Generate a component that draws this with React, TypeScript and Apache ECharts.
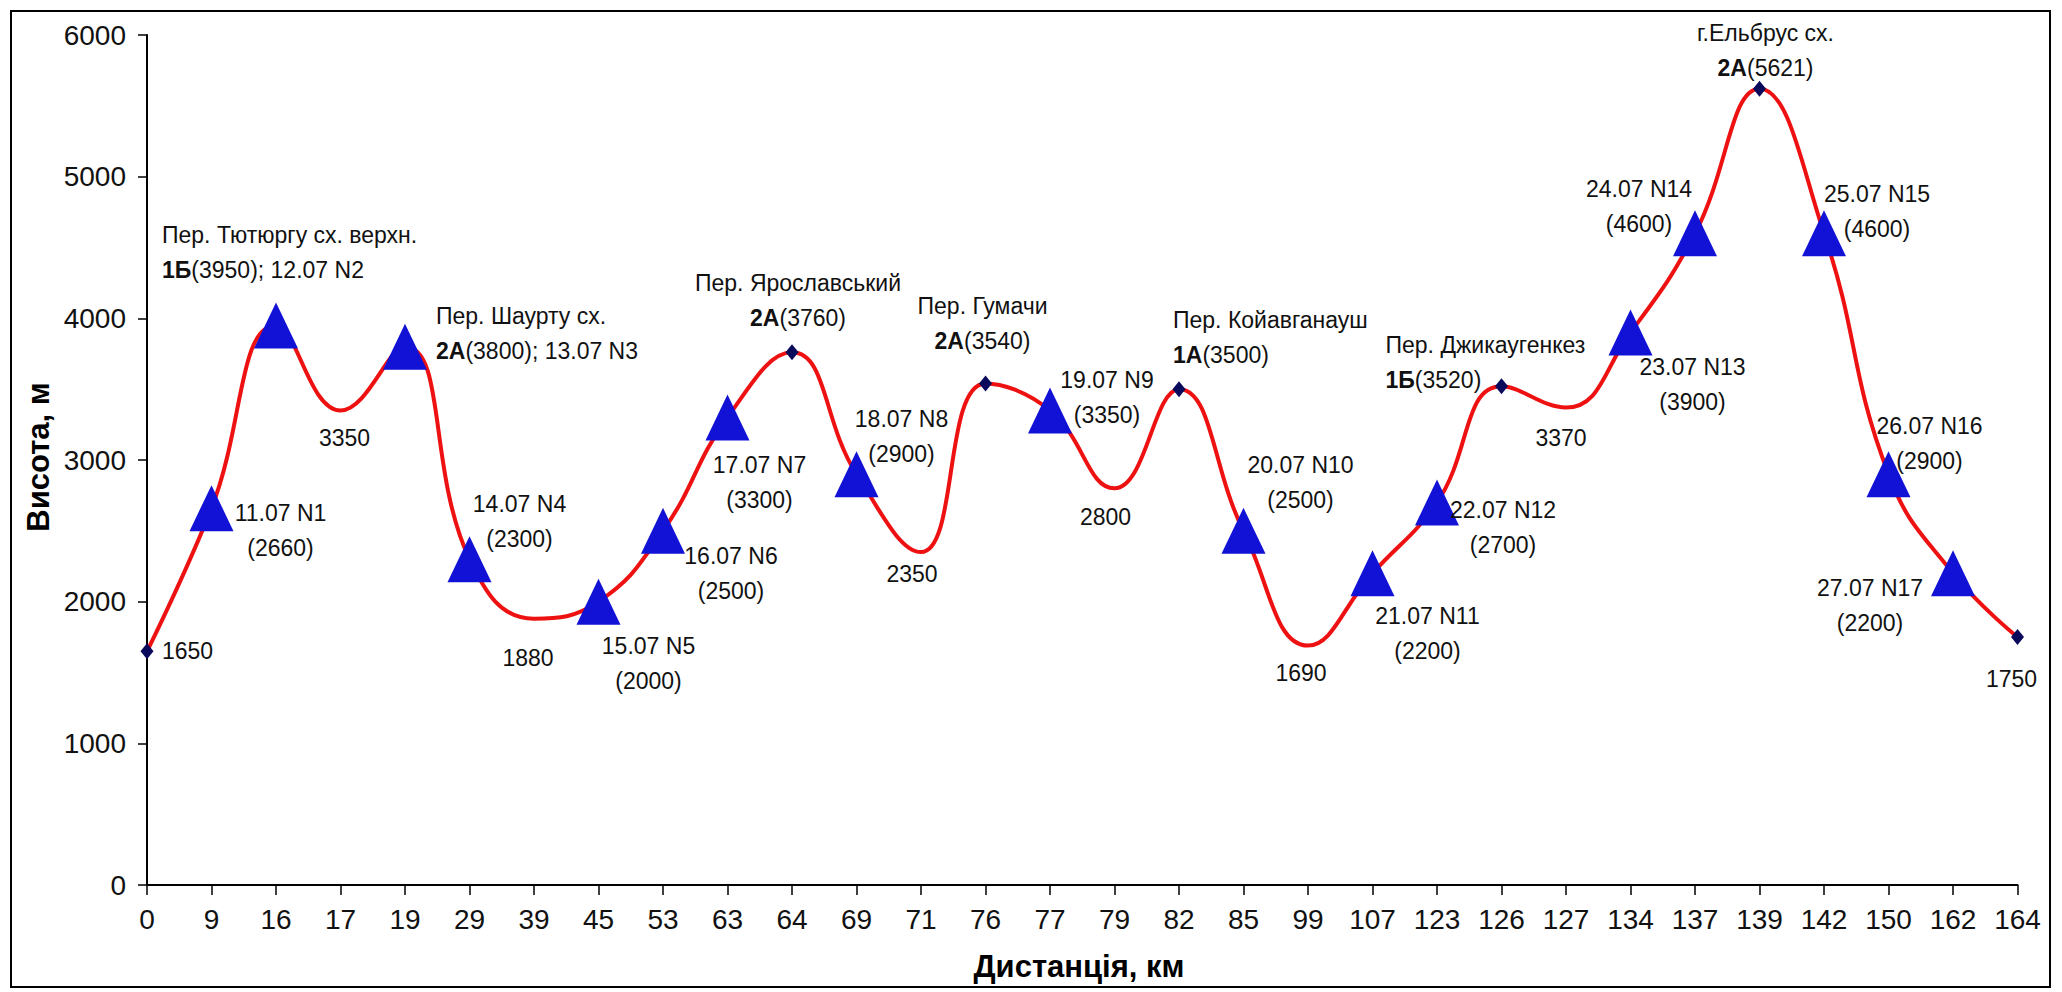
import React, { useEffect, useRef } from "react";
import * as echarts from "echarts";

const distancesKm = ["0", "9", "16", "17", "19", "29", "39", "45", "53", "63", "64", "69", "71", "76", "77", "79", "82", "85", "99", "107", "123", "126", "127", "134", "137", "139", "142", "150", "162", "164"];

const elevations = [1650, 2660, 3950, 3350, 3800, 2300, 1880, 2000, 2500, 3300, 3760, 2900, 2350, 3540, 3350, 2800, 3500, 2500, 1690, 2200, 2700, 3520, 3370, 3900, 4600, 5621, 4600, 2900, 2200, 1750];

// "pass" = diamond, "camp" = triangle, "low" = no marker
const pointKinds = ["pass", "camp", "camp", "low", "camp", "camp", "low", "camp", "camp", "camp", "pass", "camp", "low", "pass", "camp", "low", "pass", "camp", "low", "camp", "camp", "pass", "low", "camp", "camp", "pass", "camp", "camp", "camp", "pass"];

const pointLabels = [
  "1650",
  "11.07 N1\n(2660)",
  "Пер. Тютюргу сх. верхн.\n{b|1Б}(3950); 12.07 N2",
  "3350",
  "Пер. Шаурту сх.\n{b|2А}(3800); 13.07 N3",
  "14.07 N4\n(2300)",
  "1880",
  "15.07 N5\n(2000)",
  "16.07 N6\n(2500)",
  "17.07 N7\n(3300)",
  "Пер. Ярославський\n{b|2А}(3760)",
  "18.07 N8\n(2900)",
  "2350",
  "Пер. Гумачи\n{b|2А}(3540)",
  "19.07 N9\n(3350)",
  "2800",
  "Пер. Койавганауш\n{b|1А}(3500)",
  "20.07 N10\n(2500)",
  "1690",
  "21.07 N11\n(2200)",
  "22.07 N12\n(2700)",
  "Пер. Джикаугенкез\n{b|1Б}(3520)",
  "3370",
  "23.07 N13\n(3900)",
  "24.07 N14\n(4600)",
  "г.Ельбрус сх.\n{b|2А}(5621)",
  "25.07 N15\n(4600)",
  "26.07 N16\n(2900)",
  "27.07 N17\n(2200)",
  "1750",
];

const yTitle = "Висота, м";
const xTitle = "Дистанція, км";

// label placement (presentation only): [dx, dy, align]
const labelPlacement: [number, number, string][] = [
  [15, 0, "left"],
  [69, 22, "center"],
  [-114, -73, "left"],
  [4, 28, "center"],
  [31, -13, "left"],
  [50, -38, "center"],
  [-6, 39, "center"],
  [50, 62, "center"],
  [68, 43, "center"],
  [32, 65, "center"],
  [6, -52, "center"],
  [45, -38, "center"],
  [-9, 22, "center"],
  [-3, -60, "center"],
  [57, -13, "center"],
  [-9, 29, "center"],
  [-6, -52, "left"],
  [57, -48, "center"],
  [-7, 27, "center"],
  [55, 60, "center"],
  [66, 25, "center"],
  [-116, -24, "left"],
  [-5, 30, "center"],
  [62, 52, "center"],
  [-56, -27, "center"],
  [6, -38, "center"],
  [53, -22, "center"],
  [41, -31, "center"],
  [-83, 32, "center"],
  [-6, 42, "center"],
];

const FONT = "'Liberation Sans', Arial, Helvetica, sans-serif";

export default function App() {
  const ref = useRef<HTMLDivElement>(null);

  useEffect(() => {
    document.body.style.margin = "0";
    if (!ref.current) return;
    const chart = echarts.init(ref.current, undefined, { renderer: "svg" });

    const data = elevations.map((v, i) => {
      const kind = pointKinds[i];
      const [dx, dy, align] = labelPlacement[i];
      let symbol = "circle";
      let symbolSize: any = 4;
      let color = "rgba(0,0,0,0)";
      if (kind === "camp") {
        symbol = "triangle";
        symbolSize = [44, 46];
        color = "#1212d6";
      } else if (kind === "pass") {
        symbol = "diamond";
        symbolSize = [13, 16];
        color = "#0a0a5c";
      }
      return {
        value: v,
        symbol,
        symbolSize,
        itemStyle: { color, borderWidth: 0 },
        label: {
          show: true,
          position: "inside",
          offset: [dx, dy],
          align,
          verticalAlign: "middle",
          formatter: pointLabels[i],
          color: "#111",
          fontSize: 23,
          lineHeight: 35,
          fontFamily: FONT,
          textBorderWidth: 0,
          rich: {
            b: {
              fontWeight: "bold",
              fontSize: 23,
              lineHeight: 35,
              fontFamily: FONT,
              color: "#111",
            },
          },
        },
      };
    });

    chart.setOption({
      animation: false,
      backgroundColor: "#ffffff",
      grid: { left: 147, right: 44.5, top: 35, bottom: 107, containLabel: false },
      xAxis: {
        type: "category",
        data: distancesKm,
        boundaryGap: false,
        axisLine: { show: true, lineStyle: { color: "#000", width: 2 } },
        axisTick: { show: true, inside: false, length: 10, lineStyle: { color: "#000", width: 1.5 } },
        axisLabel: { color: "#111", fontSize: 28, fontFamily: FONT, margin: 20, interval: 0 },
        splitLine: { show: false },
      },
      yAxis: {
        type: "value",
        min: 0,
        max: 6000,
        interval: 1000,
        axisLine: { show: true, lineStyle: { color: "#000", width: 2 } },
        axisTick: { show: true, inside: false, length: 9, lineStyle: { color: "#000", width: 1.5 } },
        axisLabel: {
          color: "#111",
          fontSize: 28,
          fontFamily: FONT,
          margin: 21,
          formatter: (v: number) => String(v),
        },
        splitLine: { show: false },
      },
      graphic: [
        {
          type: "rect",
          shape: { x: 11, y: 11, width: 2039, height: 976 },
          style: { fill: "none", stroke: "#000", lineWidth: 2 },
          silent: true,
        },
        {
          type: "text",
          x: 1079,
          y: 966,
          style: {
            text: xTitle,
            fontSize: 31,
            fontWeight: "bold",
            fontFamily: FONT,
            fill: "#000",
            textAlign: "center",
            textVerticalAlign: "middle",
          },
        },
        {
          type: "text",
          x: 38,
          y: 457,
          rotation: Math.PI / 2,
          style: {
            text: yTitle,
            fontSize: 31,
            fontWeight: "bold",
            fontFamily: FONT,
            fill: "#000",
            textAlign: "center",
            textVerticalAlign: "middle",
          },
        },
      ],
      series: [
        {
          type: "line",
          data,
          smooth: 0.45,
          showAllSymbol: true,
          lineStyle: { color: "#ee1111", width: 4 },
          z: 2,
        },
      ],
    });

    return () => chart.dispose();
  }, []);

  return <div ref={ref} style={{ width: 2062, height: 992 }} />;
}
